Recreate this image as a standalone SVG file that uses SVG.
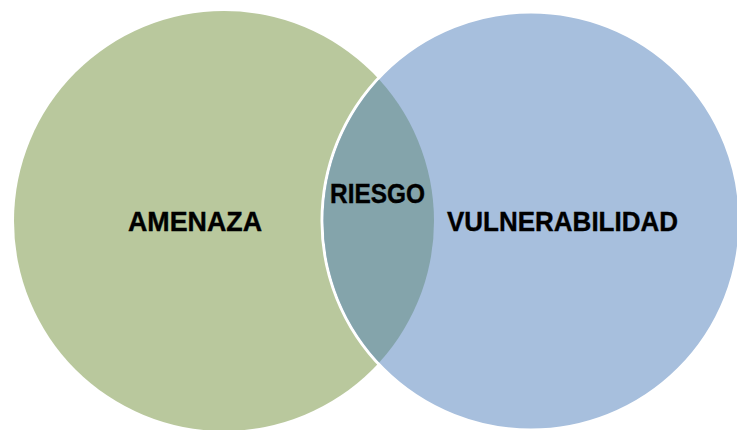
<svg xmlns="http://www.w3.org/2000/svg" width="737" height="430" viewBox="0 0 737 430">
  <style>
    .lbl { font-family: "Liberation Sans", Arial, sans-serif; font-weight: bold; font-size: 28px; fill: #000; text-anchor: middle; stroke: #000; stroke-width: 0.4; }
  </style>
  <defs>
    <clipPath id="rightInner">
      <circle cx="531" cy="221" r="207.5"/>
    </clipPath>
  </defs>
  <rect width="737" height="430" fill="#ffffff"/>
  <g id="amenaza">
    <circle cx="224" cy="221" r="210" fill="#b9c89d"/>
  </g>
  <g id="vulnerabilidad">
    <circle cx="531" cy="221" r="209" fill="#a7bfdd" stroke="#ffffff" stroke-width="3"/>
  </g>
  <g id="riesgo">
    <circle cx="224" cy="221" r="210" fill="#84a4ab" clip-path="url(#rightInner)"/>
  </g>
  <g id="labels">
    <text class="lbl" x="195" y="231" textLength="134" lengthAdjust="spacingAndGlyphs">AMENAZA</text>
    <text class="lbl" x="377.5" y="203" textLength="95" lengthAdjust="spacingAndGlyphs">RIESGO</text>
    <text class="lbl" x="562.5" y="231" textLength="231" lengthAdjust="spacingAndGlyphs">VULNERABILIDAD</text>
  </g>
  <g id="connectors"></g>
</svg>
